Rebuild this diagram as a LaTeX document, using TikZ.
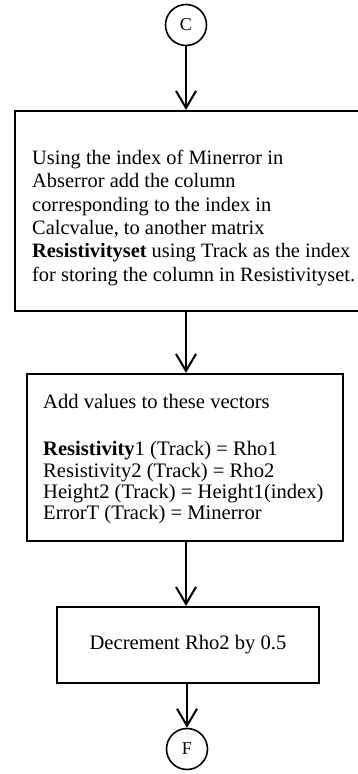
\documentclass[tikz,border=0pt]{standalone}
\usepackage{fontspec}
\setmainfont{Liberation Serif}
\usetikzlibrary{arrows.meta}
\begin{document}
\begin{tikzpicture}[x=1pt,y=-1pt,
  boxshape/.style={draw, line width=2.2pt, rectangle, inner sep=0pt},
  conn/.style={circle, draw, line width=1.6pt, minimum size=41pt, inner sep=0pt,
    font=\fontsize{18}{20}\selectfont},
  flow/.style={line width=2pt, -{Straight Barb[length=17pt,width=20pt,line width=2pt]}},
  txt/.style={inner sep=0pt, align=left, font=\fontsize{20.4}{23.3}\selectfont}
]
\useasboundingbox (0,0) rectangle (358,774);
\node[conn] (c) at (186,25) {C};
\node[boxshape, minimum width=345pt, minimum height=200pt] (box1) at (187.5,211) {};
\node[txt, anchor=north west] (box1text) at (32,150)
  {Using the index of Minerror in\\
   Abserror add the column\\
   corresponding to the index in\\
   Calcvalue, to another matrix\\
   \textbf{Resistivityset} using Track as the index\\
   for storing the column in Resistivityset.};
\node[boxshape, minimum width=316pt, minimum height=167pt] (box2) at (185,457.5) {};
\node[txt, anchor=north west, font=\fontsize{20.6}{21.3}\selectfont] (box2text) at (43,394)
  {Add values to these vectors\\[26pt]
   \textbf{Resistivity}1 (Track) = Rho1\\
   Resistivity2 (Track) = Rho2\\
   Height2 (Track) = Height1(index)\\
   ErrorT (Track) = Minerror};
\node[boxshape, minimum width=262pt, minimum height=76pt,
  font=\fontsize{20.6}{23.3}\selectfont] (box3) at (188,645) {Decrement Rho2 by 0.5};
\node[conn] (f) at (187,749) {F};
\draw[flow] (c.south) -- (c.south |- box1.north);
\draw[flow] (box1.south -| c.south) -- (c.south |- box2.north);
\draw[flow] (box2.south -| c.south) -- (c.south |- box3.north);
\draw[flow] (box3.south -| f.north) -- (f.north);
\end{tikzpicture}
\end{document}
